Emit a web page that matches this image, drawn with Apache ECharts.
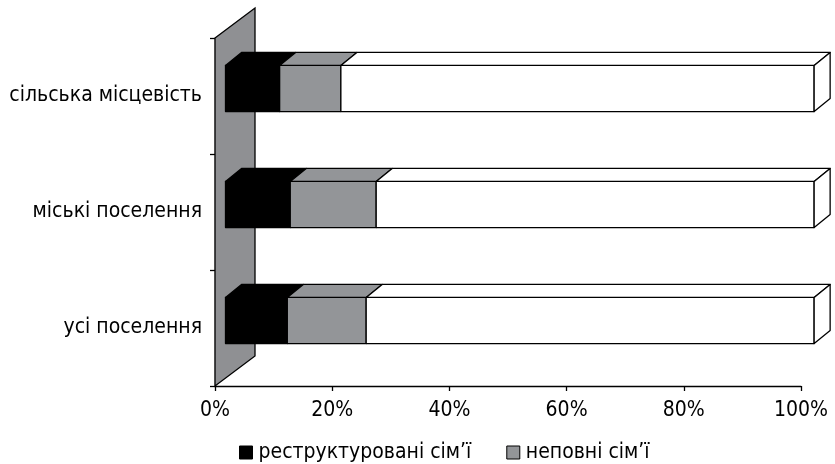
<!DOCTYPE html>
<html><head><meta charset="utf-8">
<script src="https://cdn.jsdelivr.net/npm/echarts@6/dist/echarts.min.js"></script>
<style>html,body{margin:0;padding:0;background:#fff}#c{width:835px;height:464px}</style>
</head><body><div id="c"></div>
<script>
const categories = ['усі поселення', 'міські поселення', 'сільська місцевість'];
const restructured = [10.5, 11.0, 9.2];
const incomplete = [13.4, 14.6, 10.4];
const other = [76.1, 74.4, 80.4];
const seriesNames = ['реструктуровані сім’ї', 'неповні сім’ї', 'інші'];

const FONT = '"DejaVu Sans Condensed", "DejaVu Sans"';
const FS = 21;
const segs = [restructured, incomplete, other];
const colors = ['#000000', '#939598', '#ffffff'];

function segData(k) {
  return categories.map((c, i) => {
    let s = 0;
    for (let j = 0; j < k; j++) s += segs[j][i];
    return [s, s + segs[k][i], i];
  });
}

function boxRenderer(k) {
  return function (params, api) {
    const start = api.value(0), end = api.value(1), ci = api.value(2);
    const cs = params.coordSys;
    const p0 = api.coord([start, ci]);
    const p1 = api.coord([end, ci]);
    const band = api.size([0, 1])[1];
    const h = band * 0.397;
    const dx = 16, dy = 13;
    const sc = 1.0045, off = 10.5;
    const xa = cs.x + off + (p0[0] - cs.x) * sc;
    const xb = cs.x + off + (p1[0] - cs.x) * sc;
    const yt = p0[1] - 7.5 - h / 2;
    const st = { fill: colors[k], stroke: '#000', lineWidth: 1.3, lineJoin: 'round' };
    const children = [
      { type: 'rect', shape: { x: xa, y: yt, width: xb - xa, height: h }, style: st },
      { type: 'polygon', shape: { points: [[xa, yt], [xa + dx, yt - dy], [xb + dx, yt - dy], [xb, yt]] }, style: st }
    ];
    if (k === segs.length - 1) {
      children.push({ type: 'polygon', shape: { points: [[xb, yt], [xb + dx, yt - dy], [xb + dx, yt - dy + h], [xb, yt + h]] }, style: st });
    }
    return { type: 'group', children };
  };
}

function wallRenderer(params, api) {
  const cs = params.coordSys;
  const wx = 40, wy = 30;
  const x0 = cs.x, yT = cs.y, yB = cs.y + cs.height;
  return {
    type: 'polygon',
    shape: { points: [[x0, yT], [x0 + wx, yT - wy], [x0 + wx, yB - wy], [x0, yB]] },
    style: { fill: '#8f9093', stroke: '#000', lineWidth: 1.3 }
  };
}

const chart = echarts.init(document.getElementById('c'));
const series = [{
  type: 'custom', name: 'wall', renderItem: wallRenderer, data: [[0, 0]], clip: false, silent: true, z: 1
}];
segs.forEach((s, k) => {
  series.push({
    type: 'custom', name: seriesNames[k], renderItem: boxRenderer(k), data: segData(k),
    clip: false, z: 2 + k,
    itemStyle: { color: colors[k], borderColor: '#000', borderWidth: 1 },
    encode: { x: [0, 1], y: 2 }
  });
});

chart.setOption({
  animation: false,
  backgroundColor: '#fff',
  textStyle: { fontFamily: FONT },
  grid: { left: 215, right: 34, top: 38, bottom: 78 },
  xAxis: {
    type: 'value', min: 0, max: 100, interval: 20,
    axisLine: { show: true, lineStyle: { color: '#000', width: 1.3 } },
    axisTick: { show: true, length: 5, lineStyle: { color: '#000', width: 1.3 } },
    splitLine: { show: false },
    axisLabel: { formatter: '{value}%', fontSize: FS, color: '#000', margin: 14, fontFamily: FONT }
  },
  yAxis: {
    type: 'category', data: categories,
    axisLine: { show: true, lineStyle: { color: '#000', width: 1.3 } },
    axisTick: { show: true, length: 5, lineStyle: { color: '#000', width: 1.3 } },
    axisLabel: { fontSize: FS, color: '#000', margin: 13, fontFamily: FONT }
  },
  legend: {
    bottom: 1, left: 239, padding: 0, itemWidth: 13, itemHeight: 13, itemGap: 35,
    textStyle: { fontSize: FS, color: '#000', fontFamily: FONT, padding: [0, 0, 0, 1] },
    data: [
      { name: seriesNames[0], icon: 'rect', itemStyle: { color: '#000', borderColor: '#000', borderWidth: 1 } },
      { name: seriesNames[1], icon: 'rect', itemStyle: { color: '#939598', borderColor: '#000', borderWidth: 1 } }
    ],
    selectedMode: false
  },
  series
});
</script>
</body></html>
